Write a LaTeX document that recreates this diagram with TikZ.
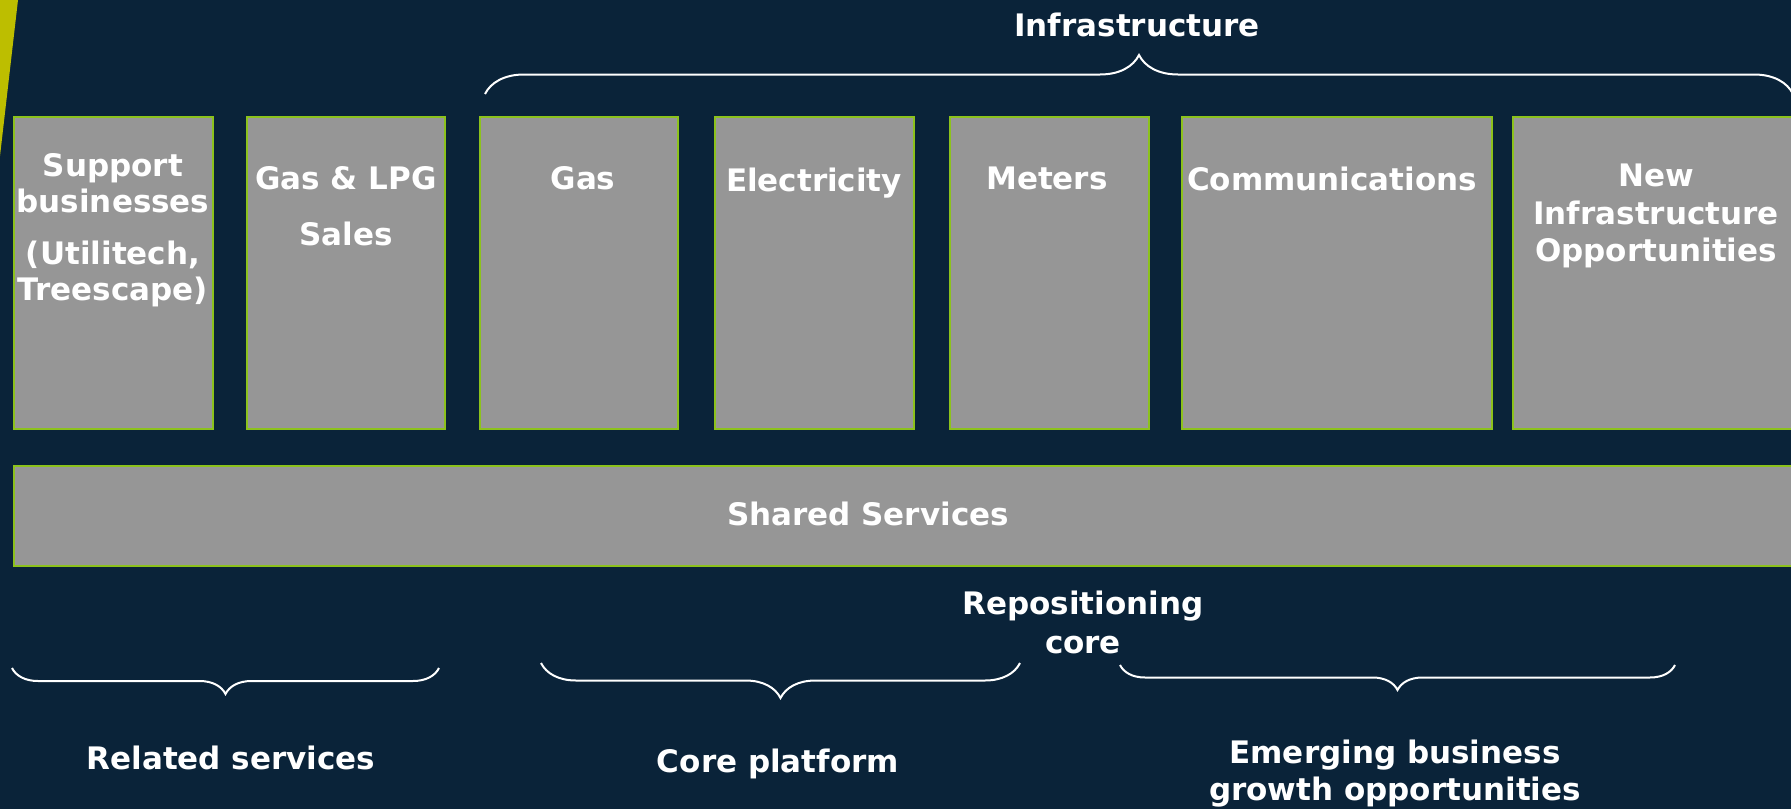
\documentclass[tikz,border=0pt]{standalone}
\usepackage{fontspec}
\setmainfont{DejaVu Sans}
\usetikzlibrary{decorations.pathreplacing}
\definecolor{bg}{HTML}{0A2339}
\definecolor{boxgray}{HTML}{969696}
\definecolor{boxedge}{HTML}{8CC21C}
\definecolor{accent}{HTML}{BDBE00}
\begin{document}
\begin{tikzpicture}[x=1pt,y=-1pt,
  bizbox/.style={draw=boxedge,fill=boxgray,line width=2.5pt,anchor=north west,inner sep=0pt,outer sep=0pt},
  lbl/.style={text=white,font=\bfseries\fontsize{31}{36}\selectfont,align=center,inner sep=0pt,anchor=north},
  bracebase/.style={draw=white,line width=2pt,decorate},
]
\useasboundingbox (0,0) rectangle (1791,809);
\clip (0,0) rectangle (1791,809);
\fill[bg] (0,0) rectangle (1791,809);
\fill[accent] (0,0) -- (18,0) -- (0,156) -- cycle;

% boxes
\node[bizbox,minimum width=199pt,minimum height=312pt] (sup) at (14,117) {};
\node[bizbox,minimum width=198pt,minimum height=312pt] (lpg) at (247,117) {};
\node[bizbox,minimum width=198pt,minimum height=312pt] (gas) at (480,117) {};
\node[bizbox,minimum width=199pt,minimum height=312pt] (ele) at (715,117) {};
\node[bizbox,minimum width=199pt,minimum height=312pt] (met) at (950,117) {};
\node[bizbox,minimum width=310pt,minimum height=312pt] (com) at (1182,117) {};
\node[bizbox,minimum width=290pt,minimum height=312pt] (new) at (1513,117) {};
\node[bizbox,minimum width=1800pt,minimum height=100pt] (shared) at (14,466) {};

% box texts
\node[lbl] (tsup) at (113,153) {Support\\businesses\\[16pt](Utilitech,\\Treescape)};
\node[lbl] (tlpg) at (346,166) {Gas \& LPG\\[20pt]Sales};
\node[lbl] (tgas) at (583,166) {Gas};
\node[lbl] (tele) at (814,168) {Electricity};
\node[lbl] (tmet) at (1047,167) {Meters};
\node[lbl] (tcom) at (1332,167) {Communications};
\node[lbl] (tnew) at (1656,164) {New\\[1.5pt]Infrastructure\\[1.5pt]Opportunities};
\node[lbl] (tshared) at (868,502) {Shared Services};

% top brace
\coordinate (infL) at (485,94);
\coordinate (infR) at (1793,94);
\draw[bracebase,decoration={brace,amplitude=39pt}] (infL) -- (infR);
\node[lbl] (tinf) at (1137,13) {Infrastructure};

% bottom braces
\coordinate (relL) at (12,668);
\coordinate (relR) at (439,668);
\draw[bracebase,decoration={brace,mirror,amplitude=26pt}] (relL) -- (relR);
\coordinate (corL) at (541,663);
\coordinate (corR) at (1020,663);
\draw[bracebase,decoration={brace,mirror,amplitude=35pt}] (corL) -- (corR);
\coordinate (emeL) at (1120,665);
\coordinate (emeR) at (1675,665);
\draw[bracebase,decoration={brace,mirror,amplitude=25pt}] (emeL) -- (emeR);

\node[lbl] (trep) at (1083,591) {Repositioning\\[3pt]core};
\node[lbl] (trel) at (231,746) {Related services};
\node[lbl] (tcor) at (778,749) {Core platform};
\node[lbl] (teme) at (1395,740) {Emerging business\\[1pt]growth opportunities};
\end{tikzpicture}
\end{document}
